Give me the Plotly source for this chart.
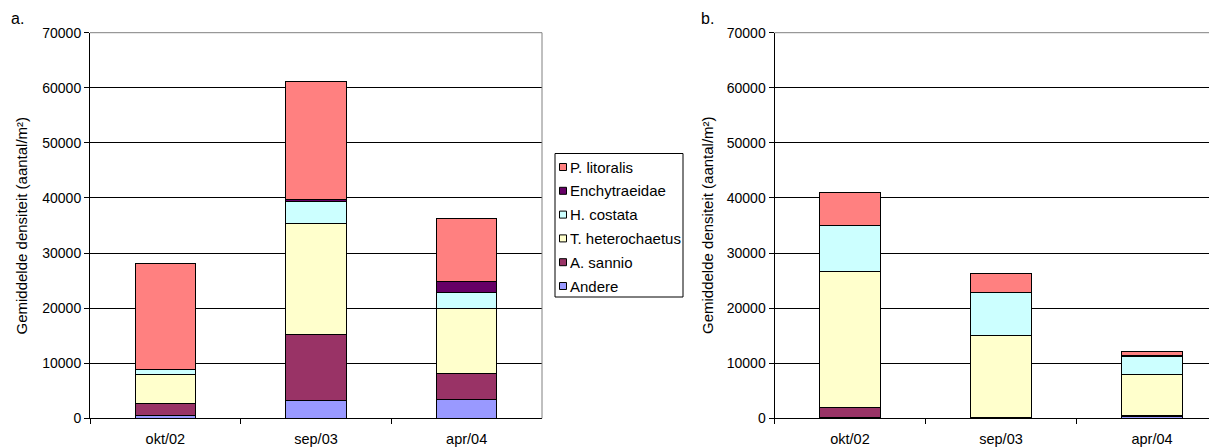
import plotly.graph_objects as go

categories = ["okt/02", "sep/03", "apr/04"]
series_names = ["Andere", "A. sannio", "T. heterochaetus", "H. costata", "Enchytraeidae", "P. litoralis"]
colors = ["#9999FF", "#993366", "#FFFFCC", "#CCFFFF", "#660066", "#FF8080"]

# Panel a
a_andere = [500, 3200, 3450]
a_sannio = [2200, 12050, 4600]
a_hetero = [5300, 20150, 11800]
a_costata = [900, 3900, 3050]
a_enchy = [0, 450, 2000]
a_litoralis = [19200, 21350, 11300]

# Panel b
b_andere = [100, 100, 300]
b_sannio = [1950, 100, 200]
b_hetero = [24600, 14900, 7500]
b_costata = [8300, 7750, 3200]
b_enchy = [0, 0, 150]
b_litoralis = [6050, 3400, 800]

y_ticks = [0, 10000, 20000, 30000, 40000, 50000, 60000, 70000]
y_tick_labels = [str(v) for v in y_ticks]
y_title = "Gemiddelde densiteit (aantal/m²)"
panel_labels = ["a."," b."]
panel_labels = ["a.", "b."]

panel_a = [a_andere, a_sannio, a_hetero, a_costata, a_enchy, a_litoralis]
panel_b = [b_andere, b_sannio, b_hetero, b_costata, b_enchy, b_litoralis]

# page offset (browser body margin)
OX, OY = 8, 8
W, H = 1217 - OX, 448 - OY


def px(x):
    return (x - OX) / W


def py(y):
    return 1 - (y - OY) / H


font = "Liberation Sans, Arial, sans-serif"
FS_TICK = 14
FS_CAT = 14.5
FS_TITLE = 15
FS_LEG = 15

fig = go.Figure()
for i, name in enumerate(series_names):
    fig.add_trace(go.Bar(
        x=categories, y=panel_a[i], name=name,
        marker=dict(color=colors[i], line=dict(color="#000000", width=1)),
        xaxis="x", yaxis="y", showlegend=False,
    ))
for i, name in enumerate(series_names):
    fig.add_trace(go.Bar(
        x=categories, y=panel_b[i], name=name,
        marker=dict(color=colors[i], line=dict(color="#000000", width=1)),
        xaxis="x2", yaxis="y2", showlegend=False,
    ))

y0_pix, y70_pix = 418.3, 32.7

common_y = dict(
    range=[0, 70000], tickvals=y_ticks, ticktext=y_tick_labels, ticks="outside", ticklen=5,
    tickcolor="#000", showline=True, linecolor="#000", linewidth=1, showgrid=True,
    gridcolor="#000", gridwidth=1, zeroline=False, automargin=False,
    tickfont=dict(family=font, size=FS_TICK, color="#000"),
    domain=[py(y0_pix), py(y70_pix)], fixedrange=True,
)
common_x = dict(
    type="category", tickson="boundaries", ticks="outside", ticklen=5, tickcolor="#000",
    showline=True, linecolor="#000", linewidth=1, showgrid=False, zeroline=False,
    automargin=False, ticklabelstandoff=7,
    tickfont=dict(family=font, size=FS_CAT, color="#000"), fixedrange=True,
)

cat_w = 151.0
x1_left, x1_right = 90.0, 542.0
x2_left = 774.5
x2_span = (1217 - x2_left) / cat_w

# Manual legend (top entry = last series)
leg_left, leg_top, leg_w, leg_h = 555, 153.5, 128, 143.5
leg_step = 23.8
leg_first_y = 167.0
shapes = [
    dict(type="line", xref="x domain", yref="y domain", x0=0, x1=1, y0=1, y1=1,
         line=dict(color="#808080", width=1)),
    dict(type="line", xref="x domain", yref="y domain", x0=1, x1=1, y0=0, y1=1,
         line=dict(color="#808080", width=1)),
    dict(type="line", xref="x2 domain", yref="y2 domain", x0=0, x1=1, y0=1, y1=1,
         line=dict(color="#808080", width=1)),
    dict(type="rect", xref="paper", yref="paper",
         x0=px(leg_left), x1=px(leg_left + leg_w),
         y0=py(leg_top + leg_h), y1=py(leg_top),
         line=dict(color="#000", width=1), fillcolor="#fff", layer="above"),
]
annotations = []
for k, idx in enumerate(reversed(range(len(series_names)))):
    cy = leg_first_y + k * leg_step
    shapes.append(dict(
        type="rect", xref="paper", yref="paper",
        x0=px(559.5), x1=px(566.5), y0=py(cy + 3.5), y1=py(cy - 3.5),
        fillcolor=colors[idx], line=dict(color="#000", width=1), layer="above"))
    annotations.append(dict(
        text=series_names[idx], xref="paper", yref="paper", x=px(568), y=py(cy),
        xanchor="left", yanchor="middle", showarrow=False,
        font=dict(family=font, size=FS_LEG, color="#000")))

# Axis titles and panel labels
ymid = (y0_pix + y70_pix) / 2
for xc in (21, 707.5):
    annotations.append(dict(
        text=y_title, xref="paper", yref="paper", x=px(xc), y=py(ymid),
        xanchor="center", yanchor="middle", textangle=-90, showarrow=False,
        font=dict(family=font, size=FS_TITLE, color="#000")))
for lbl, xl in zip(panel_labels, (9, 699)):
    annotations.append(dict(
        text=lbl, xref="paper", yref="paper", x=px(xl), y=py(8),
        xanchor="left", yanchor="top", showarrow=False,
        font=dict(family=font, size=16, color="#000")))

fig.update_layout(
    width=W, height=H,
    margin=dict(l=0, r=0, t=0, b=0, autoexpand=False),
    paper_bgcolor="#fff", plot_bgcolor="#fff",
    barmode="stack", bargap=0.6,
    xaxis=dict(common_x, domain=[px(x1_left), px(x1_right)], range=[-0.5, 2.5], anchor="y"),
    yaxis=dict(common_y, anchor="x"),
    xaxis2=dict(common_x, domain=[px(x2_left), 1.0], range=[-0.5, -0.5 + x2_span], anchor="y2"),
    yaxis2=dict(common_y, anchor="x2"),
    showlegend=False,
    shapes=shapes,
    annotations=annotations,
)

fig.write_html("out.html")
